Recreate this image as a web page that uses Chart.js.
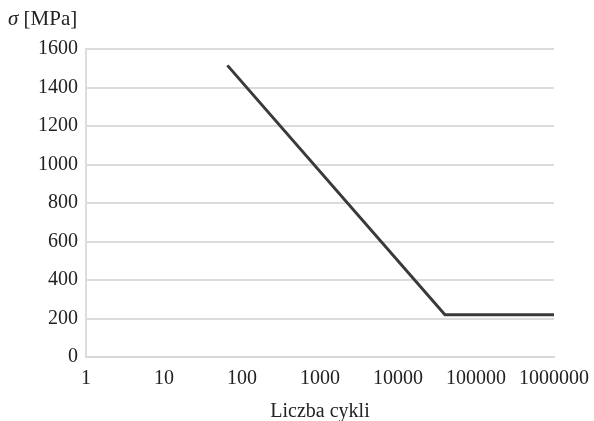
<!DOCTYPE html>
<html>
<head>
<meta charset="utf-8">
<script src="https://cdn.jsdelivr.net/npm/chart.js@4/dist/chart.umd.min.js"></script>
<style>
  html, body { margin: 0; padding: 0; background: #fff; }
  #wrap { width: 594px; height: 421px; position: relative; }
</style>
</head>
<body>
<div id="wrap"><canvas id="wohler"></canvas></div>
<script>
// Wöhler curve: stress amplitude vs number of cycles
const cycles = [65, 40000, 1000000];
const stress = [1515, 220, 220];
const xTicks = [1, 10, 100, 1000, 10000, 100000, 1000000];

const serif = 'Liberation Serif';

// y-axis unit label in the top-left corner, sigma in italics
const unitLabel = {
  id: 'unitLabel',
  afterDraw(chart) {
    const c = chart.ctx;
    c.save();
    c.fillStyle = '#222';
    c.textBaseline = 'alphabetic';
    c.font = 'italic 21px ' + serif;
    c.fillText('σ', 8, 25);
    const w = c.measureText('σ ').width;
    c.font = '21px ' + serif;
    c.fillText('[MPa]', 8 + w, 25);
    c.restore();
  }
};

const ctx = document.getElementById('wohler').getContext('2d');

new Chart(ctx, {
  type: 'line',
  data: {
    datasets: [{
      data: cycles.map((n, i) => ({ x: n, y: stress[i] })),
      borderColor: '#3a3a3a',
      borderWidth: 3,
      pointRadius: 0,
      tension: 0,
      fill: false,
    }]
  },
  options: {
    responsive: true,
    maintainAspectRatio: false,
    animation: false,
    layout: { padding: { top: 49, right: 40, bottom: 0, left: 0 } },
    plugins: {
      legend: { display: false },
      tooltip: { enabled: false },
    },
    scales: {
      x: {
        type: 'logarithmic',
        min: 1,
        max: 1000000,
        afterBuildTicks(scale) {
          scale.ticks = xTicks.map(v => ({ value: v }));
        },
        afterFit(scale) { scale.height = 64; },
        ticks: {
          autoSkip: false,
          maxRotation: 0,
          color: '#222',
          font: { family: serif, size: 20 },
          padding: 2,
          callback: v => String(v),
        },
        grid: { display: false },
        border: { display: true, color: '#d8d8d8', width: 2 },
        title: {
          display: true,
          text: 'Liczba cykli',
          color: '#222',
          font: { family: serif, size: 20 },
          padding: { top: 4, bottom: -3 },
        },
      },
      y: {
        min: 0,
        max: 1600,
        afterFit(scale) { scale.width = 86; },
        ticks: {
          stepSize: 200,
          color: '#222',
          font: { family: serif, size: 20 },
          padding: 8,
          callback: v => String(v),
        },
        grid: {
          color: '#dcdcdc',
          lineWidth: 2,
          drawTicks: false,
        },
        border: { display: true, color: '#dcdcdc', width: 2 },
      },
    },
  },
  plugins: [unitLabel],
});
</script>
</body>
</html>
